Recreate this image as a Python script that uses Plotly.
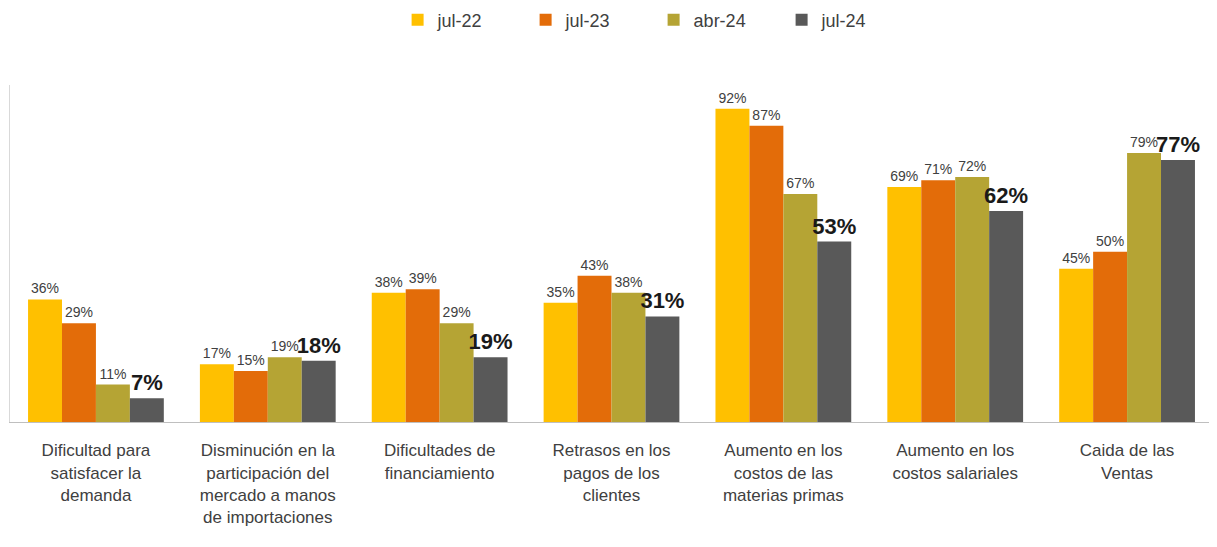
import plotly.graph_objects as go

categories = [
    "Dificultad para<br>satisfacer la<br>demanda",
    "Disminución en la<br>participación del<br>mercado a manos<br>de importaciones",
    "Dificultades de<br>financiamiento",
    "Retrasos en los<br>pagos de los<br>clientes",
    "Aumento en los<br>costos de las<br>materias primas",
    "Aumento en los<br>costos salariales",
    "Caida de las<br>Ventas",
]
series_names = ["jul-22", "jul-23", "abr-24", "jul-24"]
jul22 = [36, 17, 38, 35, 92, 69, 45]
jul23 = [29, 15, 39, 43, 87, 71, 50]
abr24 = [11, 19, 29, 38, 67, 72, 79]
jul24 = [7, 18, 19, 31, 53, 62, 77]

colors = ["#FFC000", "#E36C09", "#B5A434", "#595959"]
FONT = "Liberation Sans, Arial, sans-serif"

fig = go.Figure()
for name, vals, col in zip(series_names, [jul22, jul23, abr24, jul24], colors):
    last = name == "jul-24"
    fig.add_trace(go.Bar(
        name=name, x=categories, y=vals,
        marker=dict(color=col, line=dict(width=0)),
        texttemplate="%{y}%",
        textposition="outside",
        constraintext="none",
        cliponaxis=False,
        textfont=dict(family=FONT, size=22 if last else 14,
                      color="#1a1a1a" if last else "#404040",
                      weight="bold" if last else "normal"),
    ))

fig.update_layout(
    width=1209, height=539,
    margin=dict(l=2, r=4, t=77, b=125, autoexpand=False),
    paper_bgcolor="white", plot_bgcolor="white",
    barmode="group", bargap=0.21, bargroupgap=0,
    font=dict(family=FONT, color="#404040"),
    showlegend=True,
    legend=dict(orientation="h", x=0.535, xanchor="center", y=1.193, yanchor="middle",
                font=dict(size=18, color="#404040"), entrywidth=83,
                traceorder="normal"),
    xaxis=dict(showgrid=False, showline=True, linecolor="#bfbfbf", linewidth=1,
               ticks="outside", ticklen=13, tickcolor="rgba(0,0,0,0)",
               tickfont=dict(size=17, color="#404040"), fixedrange=True,
               automargin=False),
    yaxis=dict(range=[0, 99], showgrid=False, zeroline=False, showline=True,
               linecolor="#d9d9d9", showticklabels=False, ticks="", fixedrange=True,
               automargin=False),
)

fig.write_html("out.html")
